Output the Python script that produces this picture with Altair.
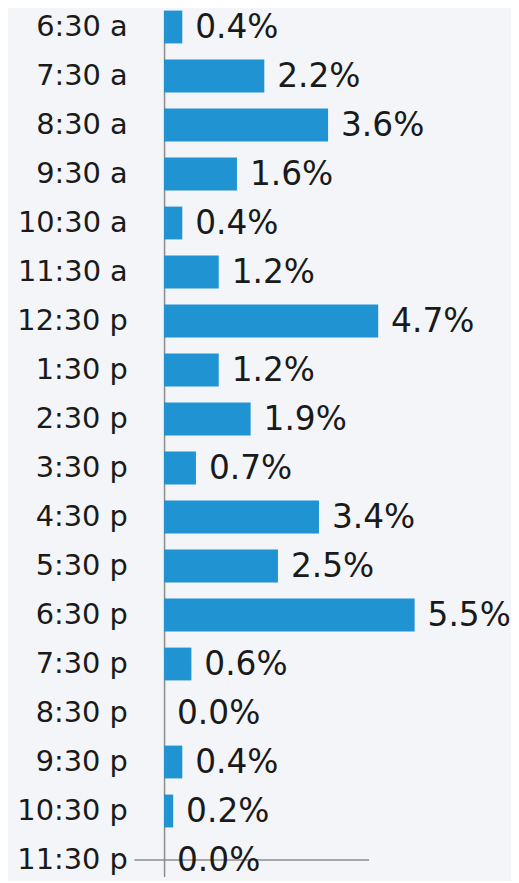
import altair as alt
import pandas as pd

times = ["6:30 a", "7:30 a", "8:30 a", "9:30 a", "10:30 a", "11:30 a",
         "12:30 p", "1:30 p", "2:30 p", "3:30 p", "4:30 p", "5:30 p",
         "6:30 p", "7:30 p", "8:30 p", "9:30 p", "10:30 p", "11:30 p"]
values = [0.4, 2.2, 3.6, 1.6, 0.4, 1.2, 4.7, 1.2, 1.9, 0.7, 3.4, 2.5,
          5.5, 0.6, 0.0, 0.4, 0.2, 0.0]

df = pd.DataFrame({"time": times, "value": values})

FONT = "DejaVu Sans"
BLUE = "#2093d3"

y_scale = alt.Scale(domain=times, range=[-1, 870], paddingInner=0.33, paddingOuter=0)
y_enc = alt.Y("time:N", sort=None, title=None, scale=y_scale,
              axis=alt.Axis(labelFont=FONT, labelFontSize=29, labelColor="#1a1a1a",
                            labelPadding=37, ticks=False, domainColor="#8c8c8c",
                            domainWidth=1.5, grid=False, minExtent=157, maxExtent=157))
x_scale = alt.Scale(domain=[0, 7.55], nice=False, zero=True)

bars = alt.Chart(df).mark_bar(color=BLUE).encode(
    x=alt.X("value:Q", scale=x_scale, axis=None),
    y=y_enc,
)

labels = alt.Chart(df).transform_calculate(
    label="format(datum.value, '.1f') + '%'"
).mark_text(align="left", baseline="middle", dx=13, dy=1, font=FONT,
            fontSize=33, color="#1a1a1a").encode(
    x=alt.X("value:Q", scale=x_scale, axis=None),
    y=alt.Y("time:N", sort=None, scale=y_scale),
    text="label:N",
)

rule_df = pd.DataFrame({"time": ["11:30 p"], "start": [-0.65], "end": [4.5]})
rule = alt.Chart(rule_df).mark_rule(color="#8c8c8c", strokeWidth=1.5).encode(
    x=alt.X("start:Q", scale=x_scale, axis=None),
    x2="end:Q",
    y=alt.Y("time:N", sort=None, scale=y_scale),
)

chart = alt.layer(rule, bars, labels).properties(
    width=346, height=867,
    padding={"left": 0, "top": 0, "right": 0, "bottom": 0},
    background="#f3f5f8",
).configure_view(stroke=None)

chart.save("out.html", embed_options={"renderer": "svg", "actions": False})
